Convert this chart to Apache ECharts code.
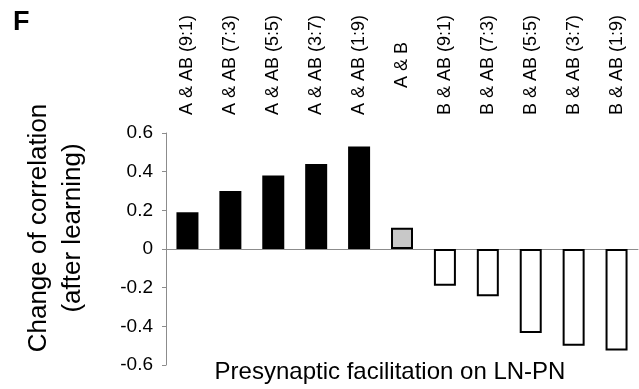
<!DOCTYPE html>
<html>
<head>
<meta charset="utf-8">
<script src="https://cdn.jsdelivr.net/npm/echarts@6/dist/echarts.min.js"></script>
<style>
html, body { margin: 0; padding: 0; background: #fff; }
#chart { width: 639px; height: 389px; }
</style>
</head>
<body>
<div id="chart"></div>
<script>
// categories (mixing ratio of odours)
var categories = [
    'A & AB (9:1)', 'A & AB (7:3)', 'A & AB (5:5)', 'A & AB (3:7)', 'A & AB (1:9)',
    'A & B',
    'B & AB (9:1)', 'B & AB (7:3)', 'B & AB (5:5)', 'B & AB (3:7)', 'B & AB (1:9)'
];
// change of correlation after learning
var values = [0.19, 0.30, 0.38, 0.44, 0.53, 0.11, -0.19, -0.245, -0.435, -0.50, -0.525];
// which group each bar belongs to
var groups = ['A', 'A', 'A', 'A', 'A', 'AB', 'B', 'B', 'B', 'B', 'B'];

var fontName = 'Liberation Sans';
var groupStyle = {
    A: {color: '#000', borderColor: '#000', borderWidth: 0},
    AB: {color: '#c8c8c8', borderColor: '#000', borderWidth: 2},
    B: {color: '#fff', borderColor: '#000', borderWidth: 2}
};

var chart = echarts.init(document.getElementById('chart'));

var barData = values.map(function (v, i) {
    return {value: v, itemStyle: groupStyle[groups[i]]};
});

chart.setOption({
    animation: false,
    backgroundColor: '#fff',
    textStyle: {fontFamily: fontName},
    grid: {left: 166, right: 1, top: 133, bottom: 24},
    xAxis: [
        {
            type: 'category',
            data: categories,
            axisLine: {onZero: true, lineStyle: {color: '#8c8c8c', width: 1}},
            axisTick: {show: false},
            axisLabel: {show: false}
        },
        {
            type: 'category',
            data: categories,
            position: 'top',
            axisLine: {show: false, onZero: false},
            axisTick: {show: false},
            axisLabel: {
                rotate: -90,
                margin: 68,
                align: 'center',
                verticalAlign: 'middle',
                color: '#000',
                fontSize: 18,
                fontFamily: fontName
            }
        }
    ],
    yAxis: {
        type: 'value',
        min: -0.6,
        max: 0.6,
        interval: 0.2,
        splitLine: {show: false},
        axisLine: {show: true, lineStyle: {color: '#8c8c8c', width: 1}},
        axisTick: {show: true, length: 4, lineStyle: {color: '#8c8c8c'}},
        axisLabel: {
            margin: 13,
            color: '#000',
            fontSize: 19,
            fontFamily: fontName,
            formatter: function (v) { return Math.round(v * 10) / 10 + ''; }
        }
    },
    series: [{
        type: 'bar',
        data: barData,
        barWidth: 22
    }],
    graphic: [
        {
            type: 'text', left: 13, top: 9,
            style: {text: 'F', font: 'bold 27px ' + fontName, fill: '#000'}
        },
        {
            type: 'text', x: 56, y: 228, rotation: Math.PI / 2,
            style: {
                text: 'Change of correlation\n(after learning)',
                font: '26px ' + fontName, fill: '#000',
                align: 'center', verticalAlign: 'middle', lineHeight: 34
            }
        },
        {
            type: 'text', x: 390, y: 372,
            style: {
                text: 'Presynaptic facilitation on LN-PN',
                font: '24px ' + fontName, fill: '#000',
                align: 'center', verticalAlign: 'middle'
            }
        }
    ]
});
</script>
</body>
</html>
